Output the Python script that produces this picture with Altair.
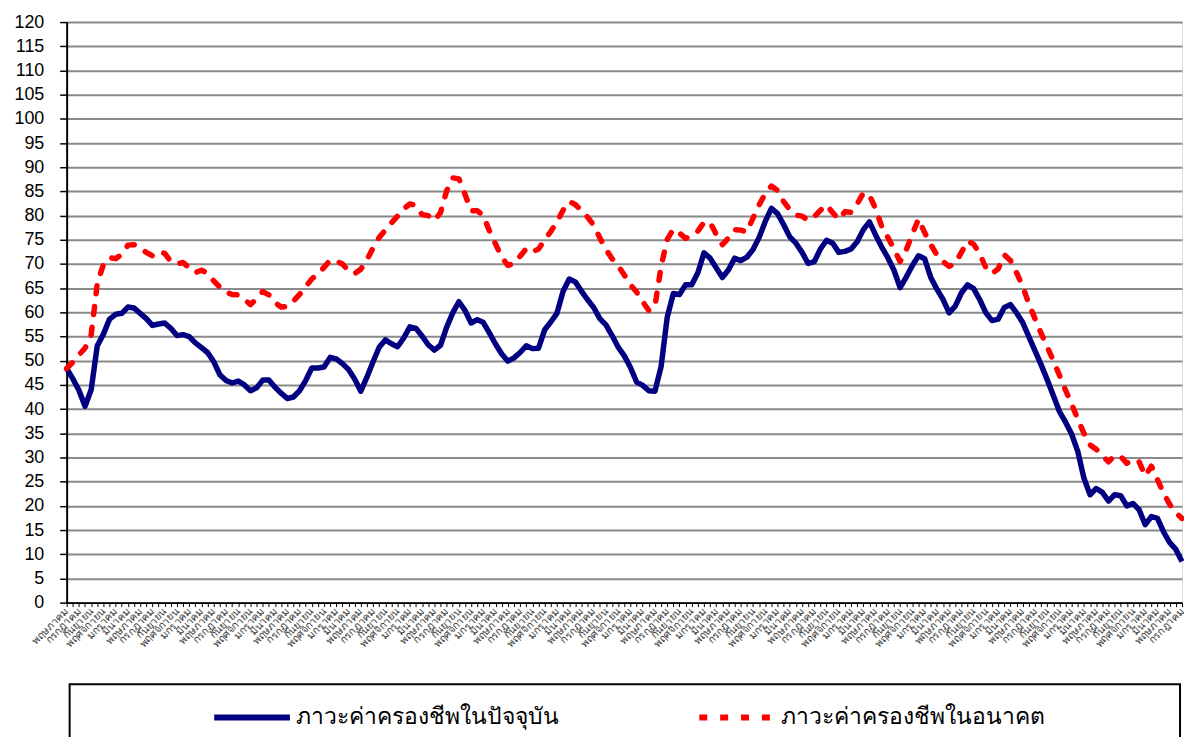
import altair as alt
import pandas as pd

months_th = ["มกราคม", "กุมภาพันธ์", "มีนาคม", "เมษายน", "พฤษภาคม", "มิถุนายน",
             "กรกฎาคม", "สิงหาคม", "กันยายน", "ตุลาคม", "พฤศจิกายน", "ธันวาคม"]
start_month = 4  # first point is พฤษภาคม

series_current = "ภาวะค่าครองชีพในปัจจุบัน"
series_future = "ภาวะค่าครองชีพในอนาคต"

current = [
    48.4, 46.3, 43.9, 40.6, 44.0, 53.1, 55.5, 58.6, 59.6, 59.8,
    61.1, 60.9, 59.8, 58.7, 57.3, 57.6, 57.8, 56.7, 55.2, 55.4,
    55.0, 53.7, 52.7, 51.7, 49.8, 47.1, 45.9, 45.4, 45.8, 45.0,
    43.8, 44.4, 46.0, 46.0, 44.5, 43.3, 42.2, 42.5, 43.8, 45.9,
    48.5, 48.5, 48.7, 50.7, 50.4, 49.4, 48.2, 46.2, 43.7, 46.6,
    49.8, 52.8, 54.3, 53.5, 52.9, 54.7, 57.0, 56.7, 55.1, 53.3,
    52.2, 53.2, 56.9, 59.9, 62.2, 60.4, 57.8, 58.5, 57.9, 55.7,
    53.4, 51.4, 49.9, 50.6, 51.7, 53.1, 52.5, 52.6, 56.4, 58.0,
    59.8, 64.3, 66.9, 66.3, 64.4, 62.6, 61.0, 58.7, 57.4, 55.2,
    52.8, 51.0, 48.6, 45.6, 44.9, 43.8, 43.7, 48.8, 59.0, 63.9,
    63.7, 65.7, 65.7, 68.2, 72.3, 71.2, 69.2, 67.2, 68.8, 71.2,
    70.7, 71.4, 73.0, 75.5, 78.8, 81.5, 80.4, 78.1, 75.6, 74.3,
    72.4, 70.1, 70.5, 73.1, 74.9, 74.3, 72.4, 72.6, 73.1, 74.6,
    77.1, 78.7, 76.0, 73.5, 71.3, 68.7, 65.1, 67.3, 69.7, 71.7,
    71.1, 67.2, 64.8, 62.7, 59.9, 61.3, 64.0, 65.7, 64.9, 62.6,
    59.9, 58.3, 58.6, 61.0, 61.6, 59.9, 57.9, 55.0, 52.1, 49.2,
    46.1, 42.8, 39.5, 37.3, 34.8, 31.2, 25.7, 22.3, 23.6, 22.8,
    21.0, 22.3, 22.1, 20.0, 20.5, 19.2, 16.1, 17.8, 17.4, 14.6,
    12.4, 11.0, 8.5,
]

future = [
    48.4, 49.7, 51.2, 52.6, 55.3, 66.0, 69.9, 71.3, 71.1, 72.0,
    73.9, 74.0, 73.2, 72.4, 71.7, 72.5, 72.2, 70.5, 70.0, 70.3,
    69.2, 68.2, 68.7, 68.1, 66.5, 65.2, 64.2, 63.7, 63.6, 62.7,
    61.6, 62.8, 64.3, 63.6, 62.0, 61.1, 61.2, 62.3, 63.7, 65.3,
    66.9, 68.0, 69.3, 70.8, 70.6, 70.0, 68.6, 68.0, 68.9, 70.9,
    73.3, 75.5, 77.0, 78.5, 79.9, 81.4, 82.4, 82.1, 80.2, 80.0,
    79.0, 80.6, 85.1, 87.8, 87.6, 84.4, 81.0, 81.0, 80.0, 76.8,
    74.1, 71.4, 69.7, 70.1, 71.6, 73.2, 72.5, 73.1, 75.0, 76.7,
    78.7, 81.1, 82.9, 82.3, 81.0, 79.7, 78.0, 75.4, 73.0, 71.1,
    69.6, 67.7, 65.7, 64.2, 62.2, 60.4, 61.3, 69.5, 75.1, 77.2,
    76.4, 75.3, 75.8, 76.8, 78.6, 78.6, 76.1, 74.0, 75.4, 77.1,
    77.0, 76.6, 79.5, 82.2, 84.6, 86.1, 85.2, 82.9, 81.2, 80.1,
    79.9, 79.0, 79.8, 81.1, 82.2, 80.6, 79.2, 80.8, 80.7, 82.4,
    84.7, 84.2, 81.4, 77.8, 75.5, 73.1, 70.5, 72.9, 76.2, 79.3,
    76.5, 74.0, 71.9, 70.5, 69.5, 70.1, 72.4, 74.7, 74.1, 72.1,
    69.2, 68.0, 69.0, 71.9, 70.7, 68.2, 65.4, 61.8, 58.7, 55.7,
    52.9, 50.0, 47.0, 43.9, 41.0, 37.9, 35.0, 32.6, 31.7, 30.4,
    29.1, 30.4, 30.2, 28.8, 29.6, 29.1, 26.2, 28.2, 25.4, 22.6,
    20.3, 18.6, 17.4,
]

n = len(current)
idx = list(range(n))
df = pd.DataFrame({
    "idx": idx * 2,
    "value": current + future,
    "series": [series_current] * n + [series_future] * n,
})

month_arr = "[" + ",".join("'" + m + "'" for m in months_th) + "]"
label_expr = f"datum.value % 2 == 0 ? {month_arr}[(datum.value + {start_month}) % 12] : ''"

x_enc = alt.X(
    "idx:Q",
    title=None,
    scale=alt.Scale(domain=[0, n - 1], nice=False, zero=False),
    axis=alt.Axis(
        values=idx, labelExpr=label_expr, labelAngle=-45, labelAlign="right",
        labelBaseline="middle", labelFontSize=10.5, labelColor="#3a3a3a",
        labelFont="Noto Sans", labelOverlap=False, labelPadding=3,
        tickSize=4, tickColor="black", tickWidth=1,
        domainColor="black", domainWidth=2, grid=False,
    ),
)
y_enc = alt.Y(
    "value:Q",
    title=None,
    scale=alt.Scale(domain=[0, 120], nice=False),
    axis=alt.Axis(
        values=list(range(0, 121, 5)), labelFontSize=18, labelFont="Liberation Sans",
        labelColor="black", labelPadding=16, tickSize=7, tickColor="black",
        tickWidth=1.5, domainColor="black", domainWidth=2,
        grid=True, gridColor="#8a8a8a", gridWidth=2,
    ),
)

legend_common = dict(
    orient="none", title=None, symbolType="stroke", symbolSize=5800,
    symbolStrokeWidth=6, labelFontSize=23, labelFont="Noto Sans",
    labelColor="black", labelOffset=3, labelLimit=400, direction="horizontal",
)

base = alt.Chart(df)

blue = base.transform_filter(alt.datum.series == series_current).mark_line(
    strokeWidth=5.5, strokeJoin="round"
).encode(
    x=x_enc, y=y_enc,
    color=alt.Color(
        "series:N",
        scale=alt.Scale(domain=[series_current], range=["#000080"]),
        legend=alt.Legend(legendX=145, legendY=658, **legend_common),
    ),
)

red = base.transform_filter(alt.datum.series == series_future).mark_line(
    strokeWidth=5.5, strokeJoin="round", strokeCap="round"
).encode(
    x=x_enc, y=y_enc,
    color=alt.Color(
        "series:N",
        scale=alt.Scale(domain=[series_future], range=["#FF0000"]),
        legend=alt.Legend(legendX=633, legendY=658, **legend_common),
    ),
    strokeDash=alt.StrokeDash(
        "series:N",
        scale=alt.Scale(domain=[series_future], range=[[8, 13]]),
        legend=alt.Legend(legendX=633, legendY=658, **legend_common),
    ),
)

frame = alt.Chart(pd.DataFrame({"k": [0]})).mark_rect(
    fill="white", fillOpacity=0, stroke="black", strokeWidth=2
).encode(
    x=alt.value(3), x2=alt.value(1120), y=alt.value(666), y2=alt.value(800)
)

chart = alt.layer(frame, blue, red).resolve_scale(
    color="independent", strokeDash="independent"
).properties(
    width=1122, height=584,
    autosize=alt.AutoSizeParams(type="none"),
    padding={"left": 59, "top": 12, "right": 2, "bottom": 133},
).configure_view(
    stroke="#8a8a8a", strokeWidth=2
).configure(background="white")

chart.save("out.html", embed_options={"renderer": "svg", "actions": False})
